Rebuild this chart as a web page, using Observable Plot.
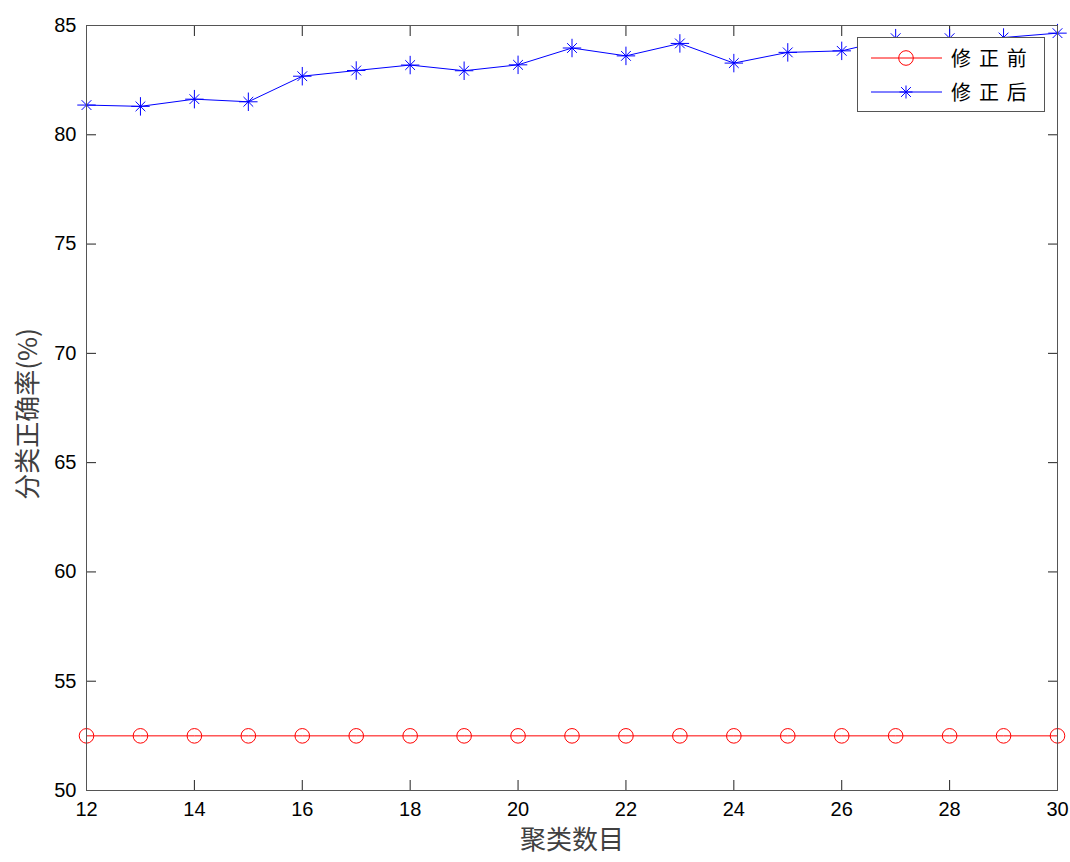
<!DOCTYPE html>
<html>
<head>
<meta charset="utf-8">
<script src="https://cdn.jsdelivr.net/npm/d3@7"></script>
<script src="https://cdn.jsdelivr.net/npm/@observablehq/plot@0.6"></script>
<style>
  body { margin: 0; background: #fff; }
  #wrap { position: relative; width: 1070px; height: 862px; }
  #legend {
    position: absolute; left: 857px; top: 37px; width: 188px; height: 75px;
    border: 1px solid #555; background: #fff; box-sizing: border-box;
    font-family: "Noto Sans CJK SC", sans-serif; font-size: 20px; color: #000;
  }
  .row { position: absolute; left: 0; height: 30px; display: flex; align-items: center; }
  .row svg { margin-left: 13px; }
  .row span { margin-left: 9px; white-space: pre; line-height: 30px; letter-spacing: 1.7px; }
</style>
</head>
<body>
<div id="wrap"></div>
<script>
// ---- data ----
const clusters = [12, 13, 14, 15, 16, 17, 18, 19, 20, 21, 22, 23, 24, 25, 26, 27, 28, 29, 30];
const beforeVals = [52.5, 52.5, 52.5, 52.5, 52.5, 52.5, 52.5, 52.5, 52.5, 52.5, 52.5, 52.5, 52.5, 52.5, 52.5, 52.5, 52.5, 52.5, 52.5];
const afterVals = [81.36, 81.30, 81.63, 81.51, 82.68, 82.94, 83.19, 82.93, 83.20, 83.97, 83.61, 84.18, 83.28, 83.77, 83.84, 84.42, 84.42, 84.45, 84.65];
const seriesNames = ["修 正 前", "修 正 后"];
const seriesColors = ["#ff0000", "#0000ff"];
const xTicks = [12, 14, 16, 18, 20, 22, 24, 26, 28, 30];
const yTicks = [50, 55, 60, 65, 70, 75, 80, 85];
const xLabel = "聚类数目";
const yLabel = "分类正确率(%)";

const beforeData = clusters.map((c, i) => ({x: c, y: beforeVals[i]}));
const afterData = clusters.map((c, i) => ({x: c, y: afterVals[i]}));
const blank = () => "";
const cjk = "'Noto Sans CJK SC', sans-serif";

const chart = Plot.plot({
  width: 1070,
  height: 862,
  marginLeft: 86,
  marginRight: 13,
  marginTop: 25,
  marginBottom: 72,
  style: {fontFamily: "'Liberation Sans', Arial, sans-serif", fontSize: "20px", color: "#000", background: "#fff"},
  x: {domain: [12, 30]},
  y: {domain: [50, 85]},
  marks: [
    Plot.axisX({ticks: xTicks, anchor: "bottom", tickSize: 0, tickPadding: 11, label: null, fontSize: 20}),
    Plot.axisX({ticks: xTicks, anchor: "bottom", tickSize: -10, tickFormat: blank, label: null, stroke: "#222"}),
    Plot.axisX({ticks: xTicks, anchor: "top", tickSize: -10, tickFormat: blank, label: null, stroke: "#222"}),
    Plot.axisY({ticks: yTicks, anchor: "left", tickSize: 0, tickPadding: 10, label: null, fontSize: 20}),
    Plot.axisY({ticks: yTicks, anchor: "left", tickSize: -10, tickFormat: blank, label: null, stroke: "#222"}),
    Plot.axisY({ticks: yTicks, anchor: "right", tickSize: -10, tickFormat: blank, label: null, stroke: "#222"}),
    Plot.lineY(beforeData, {x: "x", y: "y", stroke: seriesColors[0], strokeWidth: 1}),
    Plot.dot(beforeData, {x: "x", y: "y", r: 7.3, stroke: seriesColors[0], fill: "none", strokeWidth: 1}),
    Plot.lineY(afterData, {x: "x", y: "y", stroke: seriesColors[1], strokeWidth: 1}),
    Plot.dot(afterData, {x: "x", y: "y", symbol: "plus", r: 6, stroke: seriesColors[1], strokeWidth: 1}),
    Plot.dot(afterData, {x: "x", y: "y", symbol: "times", r: 4.5, stroke: seriesColors[1], strokeWidth: 1}),
    Plot.frame({stroke: "#555", strokeWidth: 1}),
    Plot.text([xLabel], {text: d => d, frameAnchor: "bottom", dy: 58, fontSize: 26, fill: "#404040", fontFamily: cjk}),
    Plot.text([yLabel], {text: d => d, frameAnchor: "left", textAnchor: "middle", dx: -58, dy: 6, rotate: -90, fontSize: 26, fill: "#404040", fontFamily: cjk})
  ]
});

const wrap = document.getElementById("wrap");
wrap.appendChild(chart);

// legend
const legend = document.createElement("div");
legend.id = "legend";
const rowTops = [5, 39];
seriesNames.forEach((name, i) => {
  const row = document.createElement("div");
  row.className = "row";
  row.style.top = rowTops[i] + "px";
  const c = seriesColors[i];
  const marker = i === 0
    ? `<circle cx="35" cy="15" r="7.3" fill="none" stroke="${c}"/>`
    : `<path d="M35,8.5V21.5M28.5,15H41.5M30.1,10.1L39.9,19.9M30.1,19.9L39.9,10.1" stroke="${c}" fill="none"/>`;
  row.innerHTML = `<svg width="71" height="30"><line x1="0" y1="15" x2="71" y2="15" stroke="${c}"/>${marker}</svg><span>${name}</span>`;
  legend.appendChild(row);
});
wrap.appendChild(legend);
</script>
</body>
</html>
